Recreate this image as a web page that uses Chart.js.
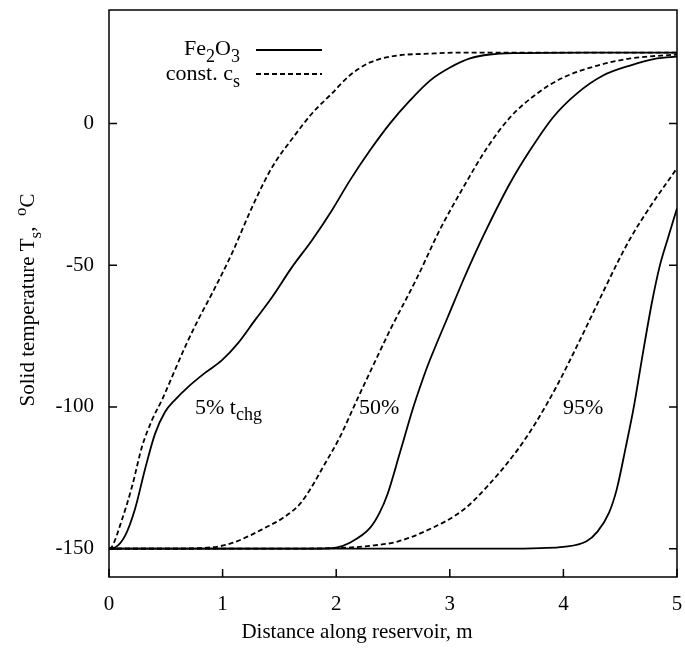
<!DOCTYPE html>
<html>
<head>
<meta charset="utf-8">
<script src="https://cdn.jsdelivr.net/npm/chart.js@4.4.0/dist/chart.umd.min.js"></script>
<style>
  html, body { margin: 0; padding: 0; background: #fff; }
</style>
</head>
<body>
<canvas id="myChart" width="685" height="653"></canvas>
<script>
// distance along reservoir (m) / solid temperature (C)
let fe5X  = [0, 0.053, 0.141, 0.229, 0.317, 0.405, 0.493, 0.581, 0.695, 0.845, 0.995, 1.136, 1.285, 1.435, 1.611, 1.787, 1.963, 2.121, 2.298, 2.474, 2.650, 2.826, 3.002, 3.178, 3.354, 3.592, 4.2, 5.0]
let fe5Y  = [-150, -149.6, -145.5, -136, -122, -109.5, -101.8, -97.5, -93.0, -88.0, -83.5, -77.5, -69.4, -61.3, -50.7, -41.2, -30.6, -20.1, -9.5, 0.0, 8.1, 15.1, 19.7, 22.9, 24.3, 24.8, 25, 25]

let cs5X  = [0, 0.026, 0.114, 0.202, 0.290, 0.379, 0.467, 0.555, 0.669, 0.783, 0.907, 1.083, 1.259, 1.435, 1.611, 1.787, 1.963, 2.121, 2.298, 2.535, 2.826, 3.116, 4.0, 5.0]
let cs5Y  = [-150, -149.3, -139.8, -128.2, -114.1, -104.6, -97.5, -89.4, -78.9, -69.4, -60, -45.8, -29.6, -15.5, -5.5, 3.5, 10.6, 17, 21.5, 23.9, 24.6, 25, 25, 25]

let fe50X = [0, 1.8, 2.0, 2.12, 2.30, 2.38, 2.45, 2.562, 2.676, 2.738, 2.80, 2.896, 2.975, 3.116, 3.204, 3.327, 3.53, 3.706, 3.908, 4.12, 4.349, 4.586, 4.824, 5.0]
let fe50Y = [-150, -150, -149.6, -147.9, -142.6, -137.5, -131, -116, -100.5, -93, -86, -76.5, -69, -55.5, -47.5, -37, -21.1, -9.5, 2.1, 10.6, 16.9, 20.4, 22.9, 23.6]

let cs50X = [0, 0.5, 0.889, 1.092, 1.391, 1.53, 1.681, 1.78, 1.88, 2.033, 2.183, 2.324, 2.474, 2.71, 2.91, 3.12, 3.33, 3.53, 3.77, 4.0, 4.30, 4.59, 5.0]
let cs50Y = [-150, -150, -149.6, -147.9, -142.3, -139.2, -134.2, -128.5, -121.5, -110.6, -97.5, -85.5, -72.9, -54.6, -37.7, -22.5, -8.5, 2.1, 10.6, 16.2, 20.4, 22.9, 24.3]

let fe95X = [0, 3.5, 3.8, 4.0, 4.2, 4.3, 4.4, 4.47, 4.55, 4.62, 4.70, 4.78, 4.85, 4.92, 5.0]
let fe95Y = [-150, -150, -149.8, -149.4, -147.5, -144, -137.5, -129, -114, -100, -81, -63, -50, -40.5, -30]

let cs95X = [0, 1.5, 2.0, 2.3, 2.54, 2.83, 3.12, 3.32, 3.59, 3.75, 3.95, 4.12, 4.30, 4.47, 4.59, 4.76, 5.0]
let cs95Y = [-150, -150, -149.8, -149, -147.5, -143.0, -136.3, -128.5, -115.5, -106, -92, -78.5, -63.6, -49.6, -40.5, -29.6, -15.8]

let xTicks = [0, 1, 2, 3, 4, 5]
let yTicks = [-150, -100, -50, 0]

// curve labels: text, subscript, x (m), y (C)
let noteText = ['5% t', '50%', '95%']
let noteSub  = ['chg', '', '']
let noteX    = [0.757, 2.2, 3.996]
let noteY    = [-102.5, -102.5, -102.5]

const FONT = '"Liberation Serif", "Times New Roman", serif'
const DASH = [5, 3]

function pairs(xs, ys) {
  return xs.map((x, i) => ({ x: x, y: ys[i] }))
}

function line(data, dashed) {
  return {
    data: data,
    borderColor: '#000',
    borderWidth: 1.8,
    borderDash: dashed ? DASH : [],
    pointRadius: 0,
    fill: false,
    cubicInterpolationMode: 'monotone'
  }
}

// text with sub/superscripts, parts = [[text, kind], ...]
function richText(ctx, parts, x, y, align, size) {
  size = size || 21
  let small = Math.round(size * 0.8)
  let widths = parts.map(p => {
    ctx.font = (p[1] ? small : size) + 'px ' + FONT
    return ctx.measureText(p[0]).width
  })
  let total = widths.reduce((a, b) => a + b, 0)
  let cx = align == 'center' ? x - total / 2 : align == 'right' ? x - total : x
  ctx.textAlign = 'left'
  ctx.textBaseline = 'alphabetic'
  parts.forEach((p, i) => {
    ctx.font = (p[1] ? small : size) + 'px ' + FONT
    let dy = p[1] == 'sub' ? 6.5 : p[1] == 'sup' ? -8 : 0
    ctx.fillText(p[0], cx, y + dy)
    cx += widths[i]
  })
}

// keep the plot box where the layout padding puts it
function noPad(s) {
  s.paddingLeft = 0
  s.paddingRight = 0
  s.paddingTop = 0
  s.paddingBottom = 0
}

const decor = {
  id: 'decor',
  afterDraw(chart) {
    let ctx = chart.ctx
    let a = chart.chartArea
    let xs = chart.scales.x
    let ys = chart.scales.y
    ctx.save()
    ctx.strokeStyle = '#000'
    ctx.fillStyle = '#000'
    ctx.lineWidth = 1.5
    ctx.strokeRect(a.left, a.top, a.right - a.left, a.bottom - a.top)

    // inward ticks: bottom, left and right
    ctx.beginPath()
    xTicks.forEach(v => {
      let px = xs.getPixelForValue(v)
      ctx.moveTo(px, a.bottom)
      ctx.lineTo(px, a.bottom - 8)
    })
    yTicks.forEach(v => {
      let py = ys.getPixelForValue(v)
      ctx.moveTo(a.left, py)
      ctx.lineTo(a.left + 8, py)
      ctx.moveTo(a.right, py)
      ctx.lineTo(a.right - 8, py)
    })
    ctx.stroke()

    // legend
    richText(ctx, [['Fe', ''], ['2', 'sub'], ['O', ''], ['3', 'sub']], 240, 55, 'right', 22)
    richText(ctx, [['const. c', ''], ['s', 'sub']], 240, 80, 'right', 22)
    ctx.lineWidth = 1.8
    ctx.beginPath()
    ctx.moveTo(256, 50)
    ctx.lineTo(322, 50)
    ctx.stroke()
    ctx.setLineDash(DASH)
    ctx.beginPath()
    ctx.moveTo(256, 74)
    ctx.lineTo(322, 74)
    ctx.stroke()
    ctx.setLineDash([])

    // curve labels
    noteText.forEach((t, i) => {
      let parts = [[t, '']]
      if(noteSub[i]) parts.push([noteSub[i], 'sub'])
      richText(ctx, parts, xs.getPixelForValue(noteX[i]), ys.getPixelForValue(noteY[i]), 'left', 22)
    })

    // axis titles
    richText(ctx, [['Distance along reservoir, m', '']], 357, 638, 'center')
    ctx.translate(34, 300)
    ctx.rotate(-Math.PI / 2)
    richText(ctx, [['Solid temperature T', ''], ['s', 'sub'], [',  ', ''], ['o', 'sup'], ['C', '']], 0, 0, 'center')
    ctx.restore()
  }
}

let ctx = document.getElementById('myChart').getContext('2d')

let myLineChart = new Chart(ctx, {
  type: 'line',
  data: {
    datasets: [
      line(pairs(fe5X, fe5Y), false),
      line(pairs(cs5X, cs5Y), true),
      line(pairs(fe50X, fe50Y), false),
      line(pairs(cs50X, cs50Y), true),
      line(pairs(fe95X, fe95Y), false),
      line(pairs(cs95X, cs95Y), true)
    ]
  },
  options: {
    responsive: false,
    animation: false,
    layout: { padding: { left: 0, right: 8, top: 10, bottom: 0 } },
    plugins: { legend: { display: false }, tooltip: { enabled: false } },
    scales: {
      x: {
        type: 'linear', min: 0, max: 5,
        grid: { display: false, drawTicks: false },
        border: { display: false },
        ticks: { color: '#000', font: { family: FONT, size: 21 }, padding: 15, maxRotation: 0, autoSkip: false },
        afterBuildTicks: s => { s.ticks = xTicks.map(v => ({ value: v })) },
        afterFit: s => { s.height = 76; noPad(s) }
      },
      y: {
        type: 'linear', min: -160, max: 40,
        grid: { display: false, drawTicks: false },
        border: { display: false },
        ticks: { color: '#000', font: { family: FONT, size: 21 }, padding: 15, autoSkip: false },
        afterBuildTicks: s => { s.ticks = yTicks.map(v => ({ value: v })) },
        afterFit: s => { s.width = 109; noPad(s) }
      }
    }
  },
  plugins: [decor]
})
</script>
</body>
</html>
